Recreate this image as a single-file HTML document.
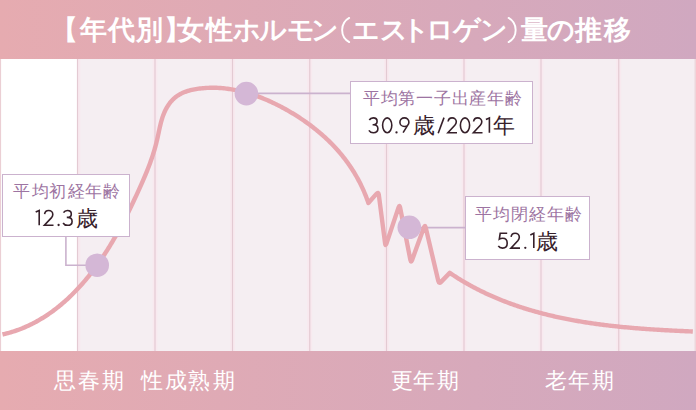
<!DOCTYPE html>
<html lang="ja"><head><meta charset="utf-8">
<style>
*{margin:0;padding:0;box-sizing:border-box}
html,body{width:696px;height:410px;overflow:hidden;background:#fff}
body{position:relative;font-family:"Liberation Sans",sans-serif}
.hdr{position:absolute;left:0;top:0;width:696px;height:59px;background:linear-gradient(90deg,#e6abb0,#d0a8c0)}
.ftr{position:absolute;left:0;top:351px;width:696px;height:59px;background:linear-gradient(90deg,#e6abb0,#d0a8c0)}
.chart{position:absolute;left:0;top:59px;width:696px;height:292px;background:#f5eef2}
.white{position:absolute;left:0;top:59px;width:77px;height:292px;background:#fff}
.tc,.lc,.ac{position:absolute;text-align:center;white-space:nowrap}
.tc{color:#fff;font-weight:bold}
.lc{color:#fff}
.vc{position:absolute;text-align:center;white-space:nowrap;color:#36202a}
.ac{color:#9d74a2}
svg{position:absolute;left:0;top:0}
.box{position:absolute;background:#fff;border:1.6px solid #cbb2ce}
.t{position:absolute;white-space:nowrap}
.b{color:#36202a;font-size:22.5px;line-height:22.5px}
.b i{font-style:normal;font-size:21px}
</style></head><body>
<div class="hdr"></div>
<div class="chart"></div>
<div class="white"></div>
<div class="ftr"></div>
<svg width="696" height="410" viewBox="0 0 696 410">
<line x1="79" y1="59" x2="79" y2="351" stroke="#f8e9ef" stroke-width="3"/><line x1="695.3" y1="59" x2="695.3" y2="351" stroke="#eed6db" stroke-width="1.6"/>
<line x1="0.5" y1="59" x2="0.5" y2="351" stroke="#ebcfd4" stroke-width="1.2"/>
<g stroke="#f8e9ef" stroke-width="5"><line x1="155" y1="59" x2="155" y2="351"/><line x1="232.5" y1="59" x2="232.5" y2="351"/><line x1="309.75" y1="59" x2="309.75" y2="351"/><line x1="386.5" y1="59" x2="386.5" y2="351"/><line x1="464" y1="59" x2="464" y2="351"/><line x1="541" y1="59" x2="541" y2="351"/><line x1="618.75" y1="59" x2="618.75" y2="351"/></g>
<g stroke="#e4cad3" stroke-width="1.2"><line x1="77.5" y1="59" x2="77.5" y2="351"/><line x1="155" y1="59" x2="155" y2="351"/><line x1="232.5" y1="59" x2="232.5" y2="351"/><line x1="309.75" y1="59" x2="309.75" y2="351"/><line x1="386.5" y1="59" x2="386.5" y2="351"/><line x1="464" y1="59" x2="464" y2="351"/><line x1="541" y1="59" x2="541" y2="351"/><line x1="618.75" y1="59" x2="618.75" y2="351"/></g>
<g stroke="#cbb2ce" stroke-width="1.6" fill="none">
<polyline points="65.9,236 65.9,265.2 97,265.2"/>
<line x1="246" y1="93.4" x2="351" y2="93.4"/>
<line x1="409" y1="227.6" x2="466" y2="227.6"/>
</g>
<path d="M2.46 334.51 L3.85 334.18 L5.23 333.85 L6.61 333.49 L7.98 333.13 L9.34 332.75 L10.69 332.35 L12.03 331.94 L13.37 331.52 L14.70 331.08 L16.02 330.63 L17.34 330.17 L18.64 329.69 L19.94 329.20 L21.24 328.70 L22.52 328.18 L23.80 327.66 L25.07 327.11 L26.34 326.56 L27.59 325.99 L28.84 325.41 L30.09 324.82 L31.32 324.22 L32.55 323.60 L33.77 322.98 L34.98 322.34 L36.19 321.69 L37.39 321.02 L38.58 320.35 L39.77 319.67 L40.94 318.97 L42.12 318.26 L43.28 317.54 L44.44 316.82 L45.59 316.08 L46.73 315.33 L47.87 314.57 L49.00 313.80 L50.12 313.02 L51.24 312.23 L52.35 311.43 L53.45 310.62 L54.55 309.80 L55.64 308.97 L56.72 308.13 L57.79 307.28 L58.86 306.43 L59.93 305.56 L60.98 304.69 L62.03 303.80 L63.07 302.91 L64.11 302.01 L65.14 301.10 L66.16 300.19 L67.18 299.26 L68.19 298.33 L69.19 297.39 L70.19 296.44 L71.18 295.48 L72.16 294.52 L73.14 293.55 L74.11 292.57 L75.08 291.58 L76.04 290.59 L76.99 289.59 L77.93 288.59 L78.87 287.57 L79.81 286.55 L80.73 285.53 L81.66 284.50 L82.57 283.46 L83.48 282.42 L84.38 281.37 L85.28 280.31 L86.17 279.25 L87.05 278.18 L87.93 277.11 L88.80 276.03 L89.67 274.95 L90.53 273.86 L91.38 272.77 L92.23 271.67 L93.07 270.57 L93.91 269.47 L94.74 268.36 L95.57 267.24 L96.38 266.12 L97.20 265.00 L98.00 263.87 L98.81 262.74 L99.60 261.61 L100.39 260.47 L101.18 259.33 L101.95 258.18 L102.73 257.03 L103.50 255.88 L104.26 254.73 L105.02 253.57 L105.77 252.41 L106.51 251.24 L107.26 250.07 L107.99 248.90 L108.72 247.73 L109.45 246.55 L110.17 245.37 L110.89 244.19 L111.60 243.00 L112.31 241.81 L113.01 240.62 L113.71 239.43 L114.41 238.24 L115.10 237.04 L115.78 235.84 L116.46 234.63 L117.14 233.43 L117.81 232.22 L118.48 231.01 L119.14 229.80 L119.80 228.59 L120.46 227.37 L121.11 226.16 L121.76 224.94 L122.41 223.72 L123.05 222.49 L123.69 221.27 L124.32 220.05 L124.95 218.82 L125.58 217.59 L126.20 216.36 L126.82 215.13 L127.44 213.90 L128.05 212.66 L128.66 211.43 L129.27 210.20 L129.88 208.96 L130.48 207.72 L131.08 206.48 L131.67 205.24 L132.27 204.00 L132.86 202.76 L133.45 201.52 L134.03 200.28 L134.61 199.04 L135.19 197.80 L135.77 196.56 L136.35 195.31 L136.92 194.07 L137.49 192.83 L138.06 191.58 L138.63 190.34 L139.19 189.10 L139.75 187.85 L140.31 186.61 L140.87 185.36 L141.43 184.12 L141.98 182.87 L142.53 181.63 L143.07 180.38 L143.61 179.13 L144.15 177.88 L144.68 176.62 L145.21 175.37 L145.73 174.11 L146.25 172.85 L146.77 171.59 L147.28 170.32 L147.78 169.05 L148.28 167.78 L148.77 166.50 L149.26 165.22 L149.74 163.94 L150.21 162.65 L150.68 161.36 L151.14 160.07 L151.59 158.77 L152.03 157.46 L152.47 156.15 L152.90 154.83 L153.32 153.51 L153.73 152.19 L154.14 150.85 L154.54 149.51 L154.92 148.17 L155.30 146.82 L155.67 145.46 L156.03 144.10 L156.38 142.72 L156.72 141.34 L157.05 139.96 L157.37 138.56 L157.68 137.16 L157.98 135.76 L158.29 134.35 L158.58 132.94 L158.88 131.53 L159.19 130.12 L159.49 128.71 L159.81 127.31 L160.13 125.91 L160.47 124.52 L160.81 123.13 L161.18 121.76 L161.56 120.40 L161.96 119.04 L162.38 117.71 L162.83 116.38 L163.30 115.08 L163.80 113.79 L164.33 112.52 L164.89 111.27 L165.49 110.04 L166.11 108.84 L166.76 107.66 L167.45 106.51 L168.16 105.39 L168.91 104.29 L169.69 103.23 L170.50 102.20 L171.35 101.20 L172.22 100.24 L173.13 99.32 L174.08 98.43 L175.05 97.58 L176.07 96.77 L177.11 96.01 L178.19 95.29 L179.30 94.61 L180.45 93.97 L181.62 93.38 L182.82 92.82 L184.05 92.30 L185.30 91.82 L186.57 91.37 L187.86 90.96 L189.17 90.58 L190.49 90.22 L191.83 89.90 L193.18 89.61 L194.54 89.34 L195.91 89.10 L197.28 88.88 L198.66 88.68 L200.03 88.50 L201.41 88.34 L202.79 88.20 L204.17 88.08 L205.55 87.98 L206.93 87.90 L208.31 87.83 L209.69 87.79 L211.06 87.76 L212.44 87.75 L213.82 87.76 L215.20 87.78 L216.57 87.82 L217.95 87.88 L219.32 87.96 L220.70 88.05 L222.07 88.16 L223.44 88.28 L224.81 88.43 L226.18 88.58 L227.55 88.76 L228.92 88.95 L230.28 89.15 L231.64 89.37 L233.01 89.60 L234.37 89.85 L235.72 90.12 L237.08 90.39 L238.44 90.69 L239.79 90.99 L241.14 91.31 L242.49 91.64 L243.83 91.99 L245.18 92.35 L246.52 92.73 L247.86 93.11 L249.19 93.51 L250.52 93.92 L251.85 94.35 L253.18 94.78 L254.51 95.23 L255.83 95.69 L257.15 96.16 L258.46 96.64 L259.77 97.13 L261.08 97.64 L262.39 98.15 L263.69 98.68 L264.99 99.22 L266.28 99.76 L267.57 100.32 L268.86 100.88 L270.14 101.46 L271.42 102.05 L272.69 102.64 L273.96 103.24 L275.23 103.86 L276.49 104.48 L277.75 105.11 L279.00 105.74 L280.25 106.39 L281.49 107.04 L282.73 107.71 L283.96 108.38 L285.19 109.05 L286.42 109.74 L287.64 110.43 L288.85 111.12 L290.06 111.83 L291.26 112.54 L292.46 113.26 L293.65 113.98 L294.84 114.71 L296.02 115.45 L297.19 116.19 L298.36 116.94 L299.53 117.69 L300.68 118.46 L301.83 119.23 L302.98 120.00 L304.12 120.79 L305.25 121.58 L306.38 122.37 L307.50 123.18 L308.62 123.99 L309.73 124.80 L310.83 125.63 L311.92 126.46 L313.01 127.30 L314.09 128.14 L315.17 128.99 L316.24 129.85 L317.30 130.72 L318.35 131.59 L319.40 132.47 L320.44 133.35 L321.48 134.25 L322.50 135.15 L323.52 136.06 L324.53 136.97 L325.54 137.89 L326.53 138.82 L327.52 139.76 L328.51 140.70 L329.48 141.65 L330.45 142.61 L331.40 143.57 L332.35 144.55 L333.30 145.53 L334.23 146.51 L335.16 147.51 L336.08 148.51 L336.99 149.52 L337.89 150.54 L338.78 151.56 L339.67 152.59 L340.54 153.63 L341.41 154.68 L342.27 155.73 L343.12 156.79 L343.97 157.86 L344.80 158.94 L345.62 160.02 L346.44 161.11 L347.25 162.21 L348.04 163.32 L348.83 164.44 L349.61 165.56 L350.38 166.69 L351.14 167.83 L351.89 168.97 L352.63 170.13 L353.37 171.29 L354.09 172.46 L354.80 173.63 L355.51 174.82 L356.20 176.01 L356.88 177.21 L357.56 178.42 L358.22 179.64 L358.87 180.86 L359.52 182.09 L360.15 183.34 L360.77 184.58 L361.38 185.84 L361.99 187.11 L362.58 188.38 L363.16 189.66 L363.73 190.95 L364.29 192.25 L364.84 193.55 L365.38 194.87 L365.91 196.19 L366.42 197.52 L366.93 198.86 L367.42 200.20 L367.91 201.56 L368.38 202.92 L376.41 193.85 Q378.40 191.60 378.78 194.58 L385.12 243.52 Q385.50 246.50 386.45 243.65 L398.55 207.35 Q399.50 204.50 400.08 207.44 L410.42 260.06 Q411.00 263.00 412.03 260.18 L423.97 227.32 Q425.00 224.50 425.69 227.42 L438.31 281.08 Q439.00 284.00 441.09 281.85 L449.77 272.88 L450.84 273.61 L451.92 274.33 L452.99 275.04 L454.08 275.75 L455.16 276.45 L456.25 277.15 L457.34 277.83 L458.43 278.52 L459.52 279.19 L460.62 279.86 L461.72 280.53 L462.82 281.19 L463.93 281.84 L465.03 282.48 L466.14 283.12 L467.26 283.76 L468.37 284.39 L469.49 285.01 L470.61 285.63 L471.73 286.24 L472.85 286.85 L473.98 287.45 L475.11 288.04 L476.24 288.63 L477.37 289.21 L478.51 289.79 L479.65 290.36 L480.78 290.93 L481.93 291.49 L483.07 292.05 L484.22 292.60 L485.37 293.14 L486.52 293.68 L487.67 294.22 L488.82 294.75 L489.98 295.27 L491.14 295.79 L492.30 296.30 L493.46 296.81 L494.63 297.31 L495.80 297.81 L496.97 298.31 L498.14 298.79 L499.31 299.28 L500.48 299.75 L501.66 300.23 L502.84 300.69 L504.02 301.16 L505.20 301.61 L506.39 302.07 L507.57 302.52 L508.76 302.96 L509.95 303.40 L511.14 303.83 L512.33 304.26 L513.53 304.69 L514.72 305.11 L515.92 305.52 L517.12 305.93 L518.32 306.34 L519.53 306.74 L520.73 307.14 L521.94 307.53 L523.14 307.92 L524.35 308.30 L525.56 308.68 L526.77 309.05 L527.99 309.42 L529.20 309.79 L530.42 310.15 L531.64 310.51 L532.86 310.86 L534.08 311.21 L535.30 311.56 L536.52 311.90 L537.75 312.24 L538.97 312.57 L540.20 312.90 L541.43 313.22 L542.66 313.54 L543.89 313.86 L545.12 314.17 L546.36 314.48 L547.59 314.78 L548.83 315.09 L550.07 315.38 L551.30 315.68 L552.54 315.97 L553.79 316.25 L555.03 316.53 L556.27 316.81 L557.51 317.09 L558.76 317.36 L560.00 317.63 L561.25 317.89 L562.50 318.15 L563.75 318.41 L565.00 318.66 L566.25 318.91 L567.50 319.16 L568.75 319.40 L570.01 319.64 L571.26 319.88 L572.51 320.11 L573.77 320.34 L575.03 320.57 L576.28 320.79 L577.54 321.01 L578.80 321.23 L580.06 321.44 L581.32 321.65 L582.58 321.86 L583.84 322.07 L585.11 322.27 L586.37 322.47 L587.63 322.66 L588.90 322.86 L590.16 323.05 L591.43 323.24 L592.69 323.42 L593.96 323.60 L595.23 323.78 L596.49 323.96 L597.76 324.13 L599.03 324.30 L600.30 324.47 L601.57 324.63 L602.84 324.80 L604.11 324.96 L605.38 325.11 L606.65 325.27 L607.92 325.42 L609.19 325.57 L610.46 325.72 L611.73 325.87 L613.00 326.01 L614.28 326.15 L615.55 326.29 L616.82 326.42 L618.09 326.56 L619.37 326.69 L620.64 326.82 L621.91 326.95 L623.19 327.07 L624.46 327.19 L625.73 327.31 L627.01 327.43 L628.28 327.55 L629.55 327.66 L630.83 327.78 L632.10 327.89 L633.38 328.00 L634.65 328.10 L635.92 328.21 L637.20 328.31 L638.47 328.41 L639.74 328.51 L641.01 328.61 L642.29 328.71 L643.56 328.80 L644.83 328.90 L646.10 328.99 L647.38 329.08 L648.65 329.17 L649.92 329.25 L651.19 329.34 L652.46 329.42 L653.73 329.50 L655.00 329.58 L656.27 329.66 L657.54 329.74 L658.81 329.82 L660.08 329.89 L661.34 329.97 L662.61 330.04 L663.88 330.11 L665.15 330.18 L666.41 330.25 L667.68 330.32 L668.94 330.39 L670.21 330.46 L671.47 330.52 L672.73 330.58 L674.00 330.65 L675.26 330.71 L676.52 330.77 L677.78 330.83 L679.04 330.89 L680.30 330.95 L681.56 331.01 L682.81 331.06 L684.07 331.12 L685.33 331.18 L686.58 331.23 L687.84 331.28 L689.09 331.34 L690.34 331.39 L691.60 331.44 L692.85 331.50" fill="none" stroke="#e8a8b0" stroke-width="4.4" stroke-linejoin="round"/>
<g fill="#d4b7d6">
<circle cx="97.2" cy="265.2" r="11.8"/>
<circle cx="246.4" cy="93.6" r="11.8"/>
<circle cx="409.3" cy="227.3" r="11.8"/>
</g>
</svg>
<div class="box" style="left:2.4px;top:173.5px;width:127.4px;height:63.9px"></div>
<div class="box" style="left:349.6px;top:80.5px;width:183.4px;height:63.8px"></div>
<div class="box" style="left:464.8px;top:196.1px;width:125.6px;height:64px"></div>
<span class="tc" style="left:38.40px;top:16.50px;width:53.0px;font-size:26.50px;line-height:26.50px">【</span>
<span class="tc" style="left:67.30px;top:16.50px;width:53.0px;font-size:26.50px;line-height:26.50px">年</span>
<span class="tc" style="left:94.60px;top:16.50px;width:53.0px;font-size:26.50px;line-height:26.50px">代</span>
<span class="tc" style="left:122.90px;top:16.50px;width:53.0px;font-size:26.50px;line-height:26.50px">別</span>
<span class="tc" style="left:150.50px;top:16.50px;width:53.0px;font-size:26.50px;line-height:26.50px">】</span>
<span class="tc" style="left:164.20px;top:16.50px;width:53.0px;font-size:26.50px;line-height:26.50px">女</span>
<span class="tc" style="left:193.40px;top:16.50px;width:53.0px;font-size:26.50px;line-height:26.50px">性</span>
<span class="tc" style="left:220.00px;top:16.50px;width:53.0px;font-size:26.50px;line-height:26.50px">ホ</span>
<span class="tc" style="left:246.90px;top:16.50px;width:53.0px;font-size:26.50px;line-height:26.50px">ル</span>
<span class="tc" style="left:274.70px;top:16.50px;width:53.0px;font-size:26.50px;line-height:26.50px">モ</span>
<span class="tc" style="left:298.90px;top:16.50px;width:53.0px;font-size:26.50px;line-height:26.50px">ン</span>
<span class="tc" style="left:339.90px;top:16.50px;width:53.0px;font-size:26.50px;line-height:26.50px">エ</span>
<span class="tc" style="left:367.80px;top:16.50px;width:53.0px;font-size:26.50px;line-height:26.50px">ス</span>
<span class="tc" style="left:389.70px;top:16.50px;width:53.0px;font-size:26.50px;line-height:26.50px">ト</span>
<span class="tc" style="left:413.90px;top:16.50px;width:53.0px;font-size:26.50px;line-height:26.50px">ロ</span>
<span class="tc" style="left:440.00px;top:16.50px;width:53.0px;font-size:26.50px;line-height:26.50px">ゲ</span>
<span class="tc" style="left:467.10px;top:16.50px;width:53.0px;font-size:26.50px;line-height:26.50px">ン</span>
<span class="tc" style="left:508.00px;top:16.50px;width:53.0px;font-size:26.50px;line-height:26.50px">量</span>
<span class="tc" style="left:534.80px;top:16.50px;width:53.0px;font-size:26.50px;line-height:26.50px">の</span>
<span class="tc" style="left:562.10px;top:16.50px;width:53.0px;font-size:26.50px;line-height:26.50px">推</span>
<span class="tc" style="left:590.80px;top:16.50px;width:53.0px;font-size:26.50px;line-height:26.50px">移</span>
<svg width="696" height="60" viewBox="0 0 696 60"><g fill="none" stroke="#fff" stroke-width="1.9" stroke-linecap="round"><path d="M349.2 17.9 A13.9 13.9 0 0 0 349.2 42.1"/><path d="M508.6 17.9 A13.9 13.9 0 0 1 508.6 42.1"/></g></svg>
<span class="lc" style="left:43.40px;top:371.20px;width:43.0px;font-size:21.50px;line-height:21.50px">思</span>
<span class="lc" style="left:67.20px;top:371.20px;width:43.0px;font-size:21.50px;line-height:21.50px">春</span>
<span class="lc" style="left:91.50px;top:371.20px;width:43.0px;font-size:21.50px;line-height:21.50px">期</span>
<span class="lc" style="left:130.60px;top:371.20px;width:43.0px;font-size:21.50px;line-height:21.50px">性</span>
<span class="lc" style="left:154.60px;top:371.20px;width:43.0px;font-size:21.50px;line-height:21.50px">成</span>
<span class="lc" style="left:177.90px;top:371.20px;width:43.0px;font-size:21.50px;line-height:21.50px">熟</span>
<span class="lc" style="left:202.20px;top:371.20px;width:43.0px;font-size:21.50px;line-height:21.50px">期</span>
<span class="lc" style="left:380.50px;top:371.20px;width:43.0px;font-size:21.50px;line-height:21.50px">更</span>
<span class="lc" style="left:402.20px;top:371.20px;width:43.0px;font-size:21.50px;line-height:21.50px">年</span>
<span class="lc" style="left:426.50px;top:371.20px;width:43.0px;font-size:21.50px;line-height:21.50px">期</span>
<span class="lc" style="left:534.20px;top:371.20px;width:43.0px;font-size:21.50px;line-height:21.50px">老</span>
<span class="lc" style="left:557.20px;top:371.20px;width:43.0px;font-size:21.50px;line-height:21.50px">年</span>
<span class="lc" style="left:581.50px;top:371.20px;width:43.0px;font-size:21.50px;line-height:21.50px">期</span>
<span class="ac" style="left:5.30px;top:183.20px;width:33.0px;font-size:16.50px;line-height:16.50px">平</span>
<span class="ac" style="left:23.75px;top:183.20px;width:33.0px;font-size:16.50px;line-height:16.50px">均</span>
<span class="ac" style="left:41.20px;top:183.20px;width:33.0px;font-size:16.50px;line-height:16.50px">初</span>
<span class="ac" style="left:59.65px;top:183.20px;width:33.0px;font-size:16.50px;line-height:16.50px">経</span>
<span class="ac" style="left:77.10px;top:183.20px;width:33.0px;font-size:16.50px;line-height:16.50px">年</span>
<span class="ac" style="left:95.05px;top:183.20px;width:33.0px;font-size:16.50px;line-height:16.50px">齢</span>
<span class="ac" style="left:354.75px;top:89.80px;width:33.0px;font-size:16.50px;line-height:16.50px">平</span>
<span class="ac" style="left:373.00px;top:89.80px;width:33.0px;font-size:16.50px;line-height:16.50px">均</span>
<span class="ac" style="left:390.25px;top:89.80px;width:33.0px;font-size:16.50px;line-height:16.50px">第</span>
<span class="ac" style="left:408.00px;top:89.80px;width:33.0px;font-size:16.50px;line-height:16.50px">一</span>
<span class="ac" style="left:426.25px;top:89.80px;width:33.0px;font-size:16.50px;line-height:16.50px">子</span>
<span class="ac" style="left:444.00px;top:89.80px;width:33.0px;font-size:16.50px;line-height:16.50px">出</span>
<span class="ac" style="left:461.25px;top:89.80px;width:33.0px;font-size:16.50px;line-height:16.50px">産</span>
<span class="ac" style="left:479.00px;top:89.80px;width:33.0px;font-size:16.50px;line-height:16.50px">年</span>
<span class="ac" style="left:496.75px;top:89.80px;width:33.0px;font-size:16.50px;line-height:16.50px">齢</span>
<span class="ac" style="left:467.00px;top:205.80px;width:33.0px;font-size:16.50px;line-height:16.50px">平</span>
<span class="ac" style="left:485.45px;top:205.80px;width:33.0px;font-size:16.50px;line-height:16.50px">均</span>
<span class="ac" style="left:502.90px;top:205.80px;width:33.0px;font-size:16.50px;line-height:16.50px">閉</span>
<span class="ac" style="left:521.35px;top:205.80px;width:33.0px;font-size:16.50px;line-height:16.50px">経</span>
<span class="ac" style="left:538.80px;top:205.80px;width:33.0px;font-size:16.50px;line-height:16.50px">年</span>
<span class="ac" style="left:556.75px;top:205.80px;width:33.0px;font-size:16.50px;line-height:16.50px">齢</span>
<span class="vc" style="left:65.55px;top:208.90px;width:43.0px;font-size:21.50px;line-height:21.50px">歳</span>
<span class="vc" style="left:402.30px;top:116.40px;width:43.0px;font-size:21.50px;line-height:21.50px">歳</span>
<span class="vc" style="left:482.00px;top:116.40px;width:43.0px;font-size:21.50px;line-height:21.50px">年</span>
<span class="vc" style="left:525.10px;top:232.20px;width:43.0px;font-size:21.50px;line-height:21.50px">歳</span>
<svg width="696" height="410" viewBox="0 0 696 410"><g fill="none" stroke="#36202a" stroke-width="1.6" stroke-linecap="butt" stroke-linejoin="miter"><path transform="translate(35.00 209.80) scale(1.000)" d="M0.7 2.3 L4.2 0.7 L4.2 15.5"/><path transform="translate(43.40 209.80) scale(1.000)" d="M1.2 4.3 C1.5 2.0 3.1 0.7 5.2 0.7 C7.6 0.7 9.4 2.4 9.4 4.6 C9.4 6.0 8.8 7.0 7.9 8.1 L1.0 15.5 L10.1 15.5"/><path transform="translate(62.40 209.80) scale(1.000)" d="M1.1 2.8 C1.9 1.4 3.3 0.7 5.0 0.7 C7.3 0.7 8.9 2.2 8.9 4.1 C8.9 6.1 7.2 7.6 5.0 7.6 L4.4 7.6 M4.4 7.6 L5.1 7.6 C7.8 7.6 9.7 9.3 9.7 11.6 C9.7 14.0 7.7 15.5 5.1 15.5 C3.2 15.5 1.6 14.8 0.7 13.2"/><path transform="translate(368.20 117.20) scale(1.000)" d="M1.1 2.8 C1.9 1.4 3.3 0.7 5.0 0.7 C7.3 0.7 8.9 2.2 8.9 4.1 C8.9 6.1 7.2 7.6 5.0 7.6 L4.4 7.6 M4.4 7.6 L5.1 7.6 C7.8 7.6 9.7 9.3 9.7 11.6 C9.7 14.0 7.7 15.5 5.1 15.5 C3.2 15.5 1.6 14.8 0.7 13.2"/><path transform="translate(381.90 117.20) scale(1.000)" d="M0.70 8.10 A4.60 7.40 0 1 0 9.90 8.10 A4.60 7.40 0 1 0 0.70 8.10"/><path transform="translate(399.10 117.20) scale(1.000)" d="M0.80 5.00 A4.50 4.30 0 1 0 9.80 5.00 A4.50 4.30 0 1 0 0.80 5.00 M9.75 6.2 L4.0 15.5"/><path transform="translate(437.60 117.20) scale(1.000)" d="M6.4 0.4 L0.6 16.0"/><path transform="translate(446.90 117.20) scale(1.000)" d="M1.2 4.3 C1.5 2.0 3.1 0.7 5.2 0.7 C7.6 0.7 9.4 2.4 9.4 4.6 C9.4 6.0 8.8 7.0 7.9 8.1 L1.0 15.5 L10.1 15.5"/><path transform="translate(459.70 117.20) scale(1.000)" d="M0.70 8.10 A4.60 7.40 0 1 0 9.90 8.10 A4.60 7.40 0 1 0 0.70 8.10"/><path transform="translate(472.40 117.20) scale(1.000)" d="M1.2 4.3 C1.5 2.0 3.1 0.7 5.2 0.7 C7.6 0.7 9.4 2.4 9.4 4.6 C9.4 6.0 8.8 7.0 7.9 8.1 L1.0 15.5 L10.1 15.5"/><path transform="translate(485.20 117.20) scale(1.000)" d="M0.7 2.3 L4.2 0.7 L4.2 15.5"/><path transform="translate(497.60 232.60) scale(1.000)" d="M9.6 0.7 L2.6 0.7 L1.7 6.6 C2.6 6.0 3.9 5.6 5.1 5.6 C7.9 5.6 9.6 7.6 9.6 10.6 C9.6 13.6 7.6 15.5 5.0 15.5 C3.0 15.5 1.5 14.7 0.7 13.3"/><path transform="translate(509.90 232.60) scale(1.000)" d="M1.2 4.3 C1.5 2.0 3.1 0.7 5.2 0.7 C7.6 0.7 9.4 2.4 9.4 4.6 C9.4 6.0 8.8 7.0 7.9 8.1 L1.0 15.5 L10.1 15.5"/><path transform="translate(529.60 232.60) scale(1.000)" d="M0.7 2.3 L4.2 0.7 L4.2 15.5"/></g><g fill="#36202a"><circle cx="58.60" cy="225.00" r="1.15"/><circle cx="396.50" cy="132.40" r="1.15"/><circle cx="525.30" cy="247.80" r="1.15"/></g></svg>
</body></html>
